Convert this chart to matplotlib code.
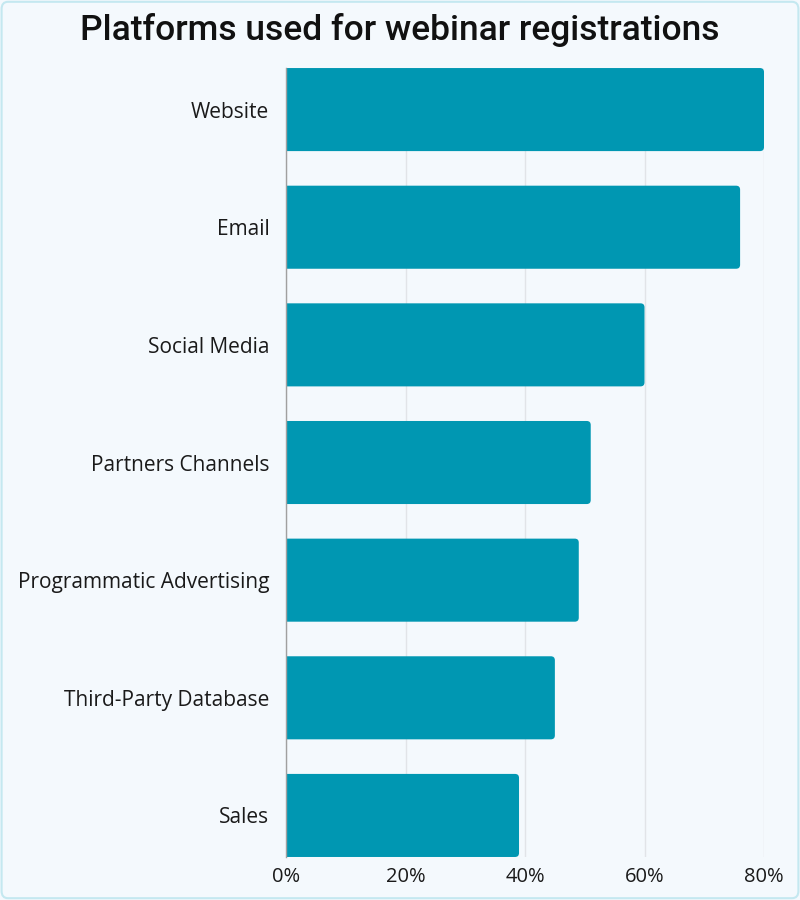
import matplotlib
matplotlib.use('Agg')
import matplotlib.pyplot as plt
from matplotlib.patches import FancyBboxPatch
from matplotlib.ticker import FuncFormatter

title = 'Platforms used for webinar registrations'
platforms = ['Website', 'Email', 'Social Media', 'Partners Channels',
             'Programmatic Advertising', 'Third-Party Database', 'Sales']
shares = [80, 76, 60, 51, 49, 45, 39]
xticks = [0, 20, 40, 60, 80]

bg = '#f4f9fd'
bar_color = '#0097b2'

plt.rcParams['font.family'] = ['Open Sans', 'DejaVu Sans']

fig = plt.figure(figsize=(8, 9), dpi=100, facecolor=bg)
ax = fig.add_axes([0.3575, 0.0478, 0.955 - 0.3575, 0.9244 - 0.0478])
ax.set_facecolor(bg)

h = 0.706
ax.set_xlim(0, 80)
ax.set_ylim(len(platforms) - 1 + h / 2, -h / 2)

# aspect between y data units and x data units in pixels
ax_w = (0.955 - 0.3575) * 800
ax_h = (0.9244 - 0.0478) * 900
px_x = ax_w / 80.0
px_y = ax_h / (len(platforms) - 1 + h)
r_px = 4.0
for i, v in enumerate(shares):
    p = FancyBboxPatch((-1, i - h / 2), v + 1, h,
                       boxstyle='round,pad=0,rounding_size=%f' % (r_px / px_x),
                       mutation_aspect=px_x / px_y,
                       facecolor=bar_color, edgecolor='none', zorder=3,
                       clip_on=True)
    ax.add_patch(p)

ax.set_yticks(range(len(platforms)))
ax.set_yticklabels(platforms, fontsize=15, color='#1a1a1a')
ax.set_xticks(xticks)
ax.xaxis.set_major_formatter(FuncFormatter(lambda x, pos: '%d%%' % x))
ax.tick_params(axis='x', labelsize=14.5, colors='#1a1a1a', length=0, pad=7)
ax.tick_params(axis='y', length=0, pad=12)
ax.grid(axis='x', color='#e1e4e8', linewidth=1, zorder=0)
for s in ['top', 'right', 'bottom']:
    ax.spines[s].set_visible(False)
ax.spines['left'].set_color('#a0a0a0')
ax.spines['left'].set_linewidth(1)
ax.spines['left'].set_zorder(4)

fig.text(0.5, 0.967, title, ha='center', va='center', fontsize=25.5,
         color='#111111', fontweight='medium',
         family=['Roboto', 'DejaVu Sans'])

border = FancyBboxPatch((0.002, 0.002), 0.996, 0.996,
                        boxstyle='round,pad=0,rounding_size=0.008',
                        transform=fig.transFigure, facecolor='none',
                        edgecolor='#c4e8f0', linewidth=1.5)
fig.patches.append(border)

fig.savefig('out.png', dpi=100, facecolor=bg)
